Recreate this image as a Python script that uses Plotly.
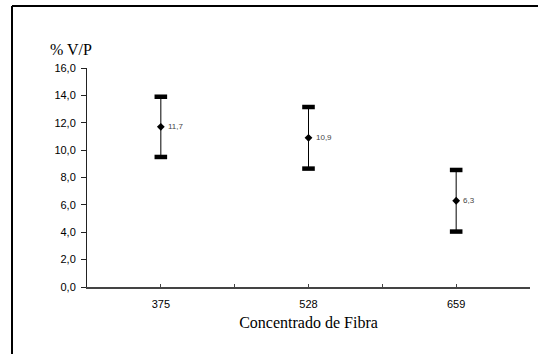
import plotly.graph_objects as go

categories = ["375", "528", "659"]
means = [11.7, 10.9, 6.3]
errors = [2.2, 2.25, 2.25]
y_ticks = [0, 2, 4, 6, 8, 10, 12, 14, 16]

xpos = list(range(1, len(categories) + 1))
labels = [f"{v:.1f}".replace(".", ",") for v in means]
upper = [m + e for m, e in zip(means, errors)]
lower = [m - e for m, e in zip(means, errors)]

fig = go.Figure()
fig.add_trace(go.Scatter(
    x=xpos, y=means, mode="markers",
    marker=dict(symbol="diamond", size=6, color="black"),
    error_y=dict(type="data", array=errors, visible=True, color="black", thickness=1, width=0),
    hoverinfo="skip", showlegend=False,
))
fig.add_trace(go.Scatter(
    x=xpos + xpos, y=upper + lower, mode="markers",
    marker=dict(symbol="line-ew", size=9, line=dict(color="black", width=4.5)),
    hoverinfo="skip", showlegend=False,
))

annotations = [
    dict(x=xx, y=yy, text=t, xref="x", yref="y", showarrow=False,
         xanchor="left", yanchor="middle", xshift=5,
         font=dict(family="Liberation Sans, Arial", size=8, color="#444444"))
    for xx, yy, t in zip(xpos, means, labels)
]
annotations.append(dict(
    text="% V/P", xref="paper", yref="paper", x=7 / 443, y=1.0, yshift=8,
    xanchor="right", yanchor="bottom", showarrow=False,
    font=dict(family="Liberation Serif, Times New Roman", size=16, color="black"),
))

tickvals_x = [0.5, 1, 1.5, 2, 2.5, 3, 3.5]
ticktext_x = ["", categories[0], "", categories[1], "", categories[2], ""]

left_px, top_px = 12, 6
fig.update_layout(
    width=538, height=354,
    margin=dict(l=87, r=8, t=68, b=67),
    plot_bgcolor="white", paper_bgcolor="white",
    separators=",.",
    xaxis=dict(
        range=[0.5, 3.5], tickvals=tickvals_x, ticktext=ticktext_x,
        showgrid=False, zeroline=False, showline=True, linecolor="#444444", linewidth=1.5,
        ticks="inside", ticklen=3, tickcolor="#444444", tickwidth=1,
        ticklabelstandoff=6,
        tickfont=dict(family="Liberation Sans, Arial", size=11, color="black"),
        title=dict(text="Concentrado de Fibra", font=dict(family="Liberation Serif, Times New Roman", size=16, color="black"), standoff=8),
    ),
    yaxis=dict(
        range=[0, 16], tickvals=y_ticks, tickformat=".1f",
        showgrid=False, zeroline=False, showline=True, linecolor="#222222", linewidth=1,
        ticks="outside", ticklen=5, tickcolor="#222222", tickwidth=1,
        ticklabelstandoff=3,
        tickfont=dict(family="Liberation Sans, Arial", size=11, color="black"),
    ),
    annotations=annotations,
    shapes=[
        dict(type="line", xref="paper", yref="paper",
             x0=(left_px - 87) / 443, x1=(left_px - 87) / 443,
             y0=(287 - 360) / 219, y1=(287 - top_px) / 219,
             line=dict(color="black", width=2)),
        dict(type="line", xref="paper", yref="paper",
             x0=(left_px - 87) / 443, x1=(545 - 87) / 443,
             y0=(287 - top_px) / 219, y1=(287 - top_px) / 219,
             line=dict(color="black", width=2)),
    ],
)

fig.write_html("out.html")
